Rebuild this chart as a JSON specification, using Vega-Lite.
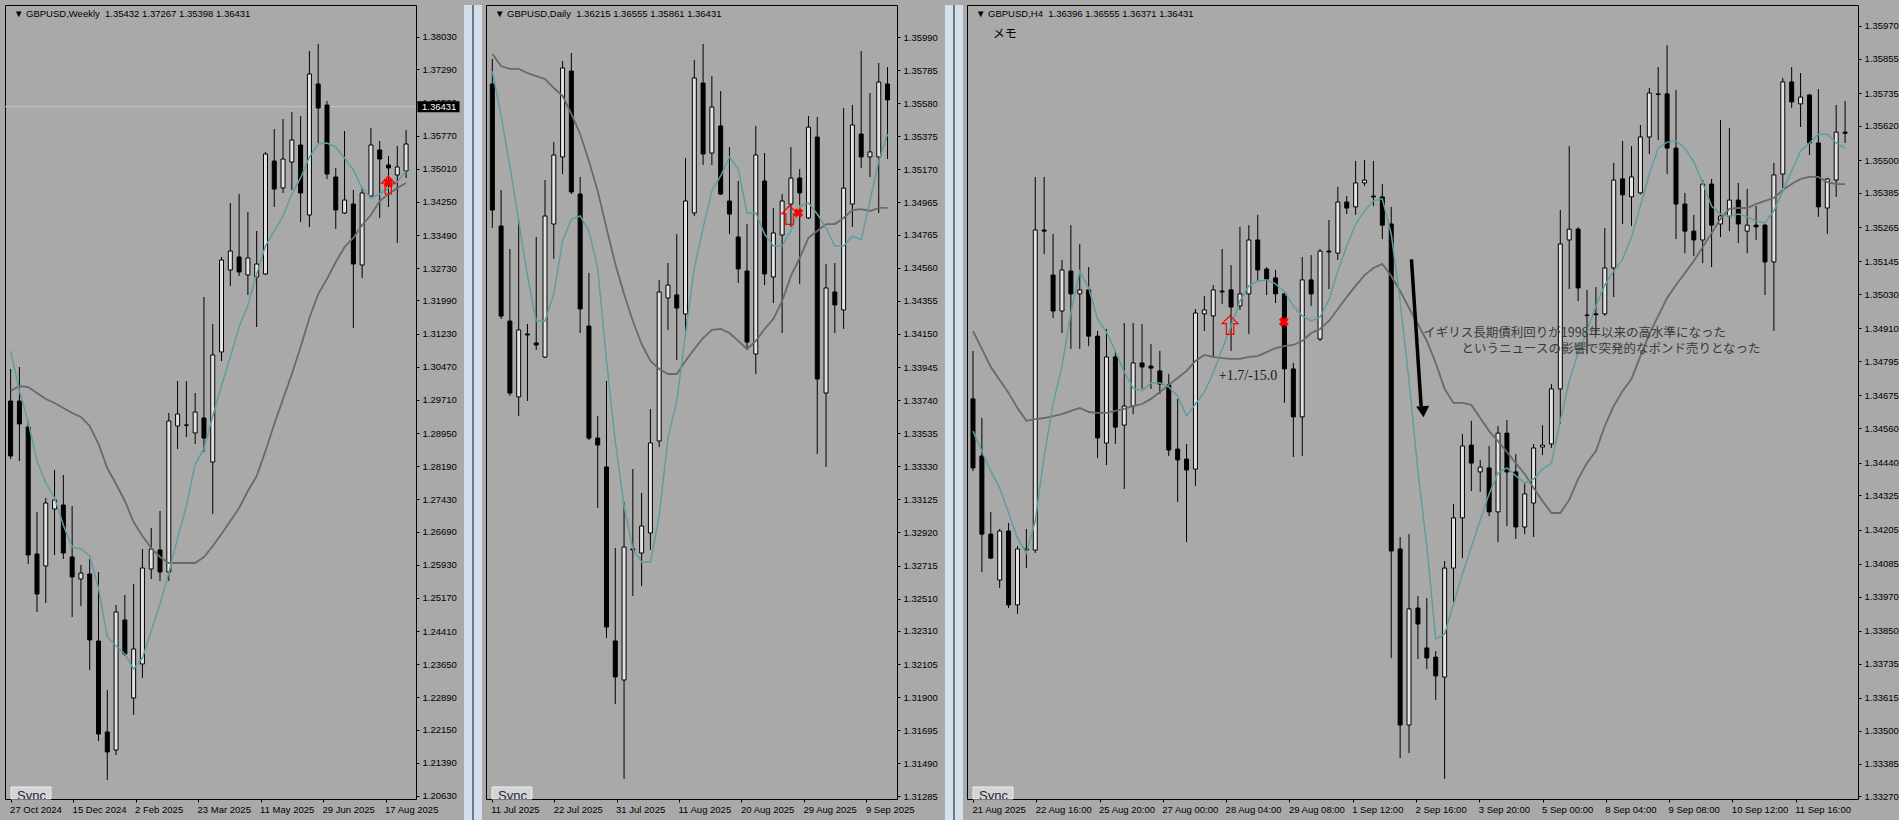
{
"$schema": "https://vega.github.io/schema/vega-lite/v6.json",
"background": "#a9a9a9",
"padding": {"left": 4, "top": 4, "right": 2, "bottom": 0},
"spacing": 3,
"config": {
  "view": {"stroke": "#000000", "strokeWidth": 1, "fill": "#a9a9a9"},
  "font": "Liberation Sans",
  "axis": {"labelFont": "Liberation Sans", "labelFontSize": 9.5, "labelColor": "#000000", "tickColor": "#000000", "tickSize": 3, "domain": false, "grid": false, "labelOverlap": false, "labelFlush": false}
},
"datasets": {
"w": [
{"i":0,"o":1.29685,"h":1.30419,"l":1.28356,"c":1.28424,"f":1.30832,"s":1.29915},
{"i":1,"o":1.29685,"h":1.30465,"l":1.2831,"c":1.29158,"f":1.29915,"s":1.30029},
{"i":2,"o":1.29089,"h":1.29227,"l":1.25948,"c":1.26155,"f":1.29204,"s":1.30006},
{"i":3,"o":1.26178,"h":1.27141,"l":1.24848,"c":1.25261,"f":1.2831,"s":1.29869},
{"i":4,"o":1.25903,"h":1.27462,"l":1.25054,"c":1.27347,"f":1.27805,"s":1.29731},
{"i":5,"o":1.27209,"h":1.28104,"l":1.26155,"c":1.27416,"f":1.27462,"s":1.29639},
{"i":6,"o":1.27301,"h":1.27989,"l":1.26063,"c":1.26201,"f":1.26843,"s":1.29525},
{"i":7,"o":1.26109,"h":1.27278,"l":1.24734,"c":1.25651,"f":1.26338,"s":1.2941},
{"i":8,"o":1.25605,"h":1.25926,"l":1.24986,"c":1.25742,"f":1.26292,"s":1.29319},
{"i":9,"o":1.25719,"h":1.26063,"l":1.23518,"c":1.24206,"f":1.26132,"s":1.29112},
{"i":10,"o":1.24183,"h":1.25765,"l":1.21891,"c":1.22051,"f":1.25398,"s":1.287},
{"i":11,"o":1.22097,"h":1.2306,"l":1.20997,"c":1.21639,"f":1.24275,"s":1.28149},
{"i":12,"o":1.21684,"h":1.25009,"l":1.2157,"c":1.24848,"f":1.24069,"s":1.27783},
{"i":13,"o":1.24665,"h":1.25238,"l":1.23839,"c":1.23885,"f":1.23885,"s":1.27393},
{"i":14,"o":1.22877,"h":1.2549,"l":1.22487,"c":1.24,"f":1.23541,"s":1.26911},
{"i":15,"o":1.23656,"h":1.26292,"l":1.23335,"c":1.25857,"f":1.23794,"s":1.2659},
{"i":16,"o":1.25834,"h":1.26774,"l":1.25605,"c":1.26292,"f":1.24413,"s":1.26315},
{"i":17,"o":1.2627,"h":1.27164,"l":1.25559,"c":1.25765,"f":1.25032,"s":1.26109},
{"i":18,"o":1.25765,"h":1.2941,"l":1.25559,"c":1.29227,"f":1.25742,"s":1.25971},
{"i":19,"o":1.29112,"h":1.30144,"l":1.28585,"c":1.29387,"f":1.26545,"s":1.25971},
{"i":20,"o":1.29135,"h":1.30144,"l":1.2886,"c":1.2913,"f":1.27278,"s":1.25971},
{"i":21,"o":1.28952,"h":1.29869,"l":1.287,"c":1.29433,"f":1.28241,"s":1.25971},
{"i":22,"o":1.29296,"h":1.3207,"l":1.28516,"c":1.28837,"f":1.28585,"s":1.26109},
{"i":23,"o":1.28287,"h":1.31451,"l":1.27095,"c":1.3074,"f":1.29341,"s":1.26361},
{"i":24,"o":1.30809,"h":1.32987,"l":1.30602,"c":1.32918,"f":1.30029,"s":1.26636},
{"i":25,"o":1.32689,"h":1.34224,"l":1.32322,"c":1.33124,"f":1.30694,"s":1.26934},
{"i":26,"o":1.32987,"h":1.34431,"l":1.32551,"c":1.32643,"f":1.31382,"s":1.27232},
{"i":27,"o":1.32574,"h":1.34018,"l":1.32115,"c":1.32964,"f":1.31886,"s":1.27622},
{"i":28,"o":1.32528,"h":1.33583,"l":1.31382,"c":1.32826,"f":1.32597,"s":1.27966},
{"i":29,"o":1.32597,"h":1.35394,"l":1.32574,"c":1.35348,"f":1.33239,"s":1.28539},
{"i":30,"o":1.35187,"h":1.35921,"l":1.34133,"c":1.34545,"f":1.33583,"s":1.29158},
{"i":31,"o":1.34568,"h":1.3615,"l":1.34454,"c":1.35233,"f":1.33926,"s":1.29731},
{"i":32,"o":1.35164,"h":1.36311,"l":1.34523,"c":1.35669,"f":1.34431,"s":1.30304},
{"i":33,"o":1.35554,"h":1.36219,"l":1.33789,"c":1.34454,"f":1.34798,"s":1.30923},
{"i":34,"o":1.33949,"h":1.37709,"l":1.33674,"c":1.37182,"f":1.35279,"s":1.31588},
{"i":35,"o":1.36953,"h":1.3787,"l":1.356,"c":1.36402,"f":1.35577,"s":1.32138},
{"i":36,"o":1.36471,"h":1.36563,"l":1.34775,"c":1.34889,"f":1.356,"s":1.32482},
{"i":37,"o":1.34821,"h":1.35027,"l":1.33628,"c":1.34064,"f":1.35508,"s":1.32872},
{"i":38,"o":1.33995,"h":1.35875,"l":1.33972,"c":1.34293,"f":1.35256,"s":1.33216},
{"i":39,"o":1.34202,"h":1.34523,"l":1.31359,"c":1.32826,"f":1.34981,"s":1.33422},
{"i":40,"o":1.32803,"h":1.34568,"l":1.32505,"c":1.34454,"f":1.34568,"s":1.3372},
{"i":41,"o":1.34385,"h":1.35944,"l":1.34339,"c":1.35554,"f":1.34339,"s":1.33949},
{"i":42,"o":1.3544,"h":1.35646,"l":1.33881,"c":1.35233,"f":1.34431,"s":1.3427},
{"i":43,"o":1.35096,"h":1.35302,"l":1.34133,"c":1.35027,"f":1.34568,"s":1.34431},
{"i":44,"o":1.34866,"h":1.35531,"l":1.33307,"c":1.3505,"f":1.34706,"s":1.34568},
{"i":45,"o":1.34958,"h":1.35898,"l":1.34798,"c":1.35577,"f":1.34958,"s":1.34683}
],
"d": [
{"i":0,"o":1.35699,"h":1.35854,"l":1.34807,"c":1.34918,"f":1.35779,"s":1.35885},
{"i":1,"o":1.34819,"h":1.35042,"l":1.34243,"c":1.34261,"f":1.35501,"s":1.3581},
{"i":2,"o":1.3423,"h":1.34677,"l":1.33766,"c":1.33784,"f":1.35191,"s":1.35792},
{"i":3,"o":1.3376,"h":1.34856,"l":1.33642,"c":1.34175,"f":1.3485,"s":1.35792},
{"i":4,"o":1.3415,"h":1.34212,"l":1.33735,"c":1.34144,"f":1.34509,"s":1.35767},
{"i":5,"o":1.34094,"h":1.34751,"l":1.34051,"c":1.34082,"f":1.3423,"s":1.35748},
{"i":6,"o":1.34007,"h":1.35104,"l":1.34001,"c":1.34881,"f":1.3423,"s":1.3573},
{"i":7,"o":1.34831,"h":1.35339,"l":1.34615,"c":1.35259,"f":1.34398,"s":1.35674},
{"i":8,"o":1.35247,"h":1.35841,"l":1.35141,"c":1.35798,"f":1.34726,"s":1.35625},
{"i":9,"o":1.35779,"h":1.35891,"l":1.35017,"c":1.3503,"f":1.34862,"s":1.35513},
{"i":10,"o":1.35017,"h":1.35123,"l":1.34156,"c":1.34305,"f":1.34881,"s":1.35389},
{"i":11,"o":1.34199,"h":1.34528,"l":1.33493,"c":1.33505,"f":1.34788,"s":1.35222},
{"i":12,"o":1.33505,"h":1.33642,"l":1.33072,"c":1.33462,"f":1.34559,"s":1.35036},
{"i":13,"o":1.33326,"h":1.33859,"l":1.32266,"c":1.32334,"f":1.33983,"s":1.34807},
{"i":14,"o":1.32248,"h":1.32824,"l":1.31857,"c":1.32025,"f":1.33487,"s":1.34584},
{"i":15,"o":1.32006,"h":1.33109,"l":1.31393,"c":1.3283,"f":1.33084,"s":1.34398},
{"i":16,"o":1.32818,"h":1.33313,"l":1.32527,"c":1.32812,"f":1.32818,"s":1.3423},
{"i":17,"o":1.32793,"h":1.33165,"l":1.32588,"c":1.3296,"f":1.32737,"s":1.34088},
{"i":18,"o":1.32917,"h":1.33685,"l":1.32812,"c":1.33475,"f":1.32737,"s":1.33983},
{"i":19,"o":1.33487,"h":1.34484,"l":1.3345,"c":1.3441,"f":1.33022,"s":1.33933},
{"i":20,"o":1.34373,"h":1.3459,"l":1.34175,"c":1.34453,"f":1.33505,"s":1.33902},
{"i":21,"o":1.34392,"h":1.34769,"l":1.33989,"c":1.34311,"f":1.33735,"s":1.33902},
{"i":22,"o":1.34274,"h":1.3524,"l":1.3415,"c":1.34974,"f":1.3415,"s":1.33983},
{"i":23,"o":1.349,"h":1.35848,"l":1.34881,"c":1.35736,"f":1.34559,"s":1.34057},
{"i":24,"o":1.35705,"h":1.35947,"l":1.35197,"c":1.35265,"f":1.34807,"s":1.34125},
{"i":25,"o":1.35271,"h":1.35748,"l":1.35197,"c":1.35556,"f":1.35036,"s":1.34175},
{"i":26,"o":1.35439,"h":1.35655,"l":1.35011,"c":1.35017,"f":1.35129,"s":1.34181},
{"i":27,"o":1.34974,"h":1.35308,"l":1.34769,"c":1.34893,"f":1.35247,"s":1.34156},
{"i":28,"o":1.34751,"h":1.35098,"l":1.34466,"c":1.34553,"f":1.35172,"s":1.34107},
{"i":29,"o":1.3454,"h":1.34831,"l":1.34051,"c":1.341,"f":1.349,"s":1.34057},
{"i":30,"o":1.34026,"h":1.35439,"l":1.33902,"c":1.35259,"f":1.349,"s":1.34107},
{"i":31,"o":1.35098,"h":1.35271,"l":1.34453,"c":1.34522,"f":1.34769,"s":1.34181},
{"i":32,"o":1.34503,"h":1.34931,"l":1.34342,"c":1.34776,"f":1.34695,"s":1.34243},
{"i":33,"o":1.34763,"h":1.35017,"l":1.34156,"c":1.34974,"f":1.34695,"s":1.34354},
{"i":34,"o":1.34955,"h":1.35308,"l":1.34813,"c":1.35116,"f":1.34788,"s":1.34509},
{"i":35,"o":1.35116,"h":1.35172,"l":1.3446,"c":1.35024,"f":1.34943,"s":1.34621},
{"i":36,"o":1.34869,"h":1.35501,"l":1.34862,"c":1.35432,"f":1.34962,"s":1.34745},
{"i":37,"o":1.3537,"h":1.35495,"l":1.33406,"c":1.33871,"f":1.34893,"s":1.34788},
{"i":38,"o":1.33784,"h":1.34584,"l":1.33326,"c":1.34435,"f":1.34807,"s":1.34831},
{"i":39,"o":1.3441,"h":1.3459,"l":1.34156,"c":1.3433,"f":1.34695,"s":1.34831},
{"i":40,"o":1.34299,"h":1.3555,"l":1.34181,"c":1.35054,"f":1.34695,"s":1.34869},
{"i":41,"o":1.34955,"h":1.35569,"l":1.34813,"c":1.35445,"f":1.34757,"s":1.34918},
{"i":42,"o":1.35389,"h":1.35903,"l":1.35178,"c":1.35247,"f":1.34732,"s":1.34924},
{"i":43,"o":1.35247,"h":1.35643,"l":1.35123,"c":1.35278,"f":1.34974,"s":1.34912},
{"i":44,"o":1.35247,"h":1.35829,"l":1.349,"c":1.35711,"f":1.35222,"s":1.34931},
{"i":45,"o":1.35699,"h":1.35804,"l":1.35234,"c":1.356,"f":1.35389,"s":1.34931}
],
"h": [
{"i":0,"o":1.34663,"h":1.34831,"l":1.3441,"c":1.34421,"f":1.3455,"s":1.34901},
{"i":1,"o":1.34463,"h":1.34596,"l":1.34056,"c":1.34189,"f":1.3448,"s":1.34838},
{"i":2,"o":1.34189,"h":1.34267,"l":1.34102,"c":1.34105,"f":1.3441,"s":1.34775},
{"i":3,"o":1.34028,"h":1.34207,"l":1.34,"c":1.342,"f":1.34351,"s":1.34729},
{"i":4,"o":1.342,"h":1.34228,"l":1.3393,"c":1.33941,"f":1.34263,"s":1.34684},
{"i":5,"o":1.33941,"h":1.34147,"l":1.33909,"c":1.34137,"f":1.34175,"s":1.34631},
{"i":6,"o":1.34137,"h":1.34207,"l":1.3407,"c":1.34133,"f":1.34123,"s":1.34586},
{"i":7,"o":1.34133,"h":1.35441,"l":1.34123,"c":1.35255,"f":1.34235,"s":1.34592},
{"i":8,"o":1.35255,"h":1.35441,"l":1.35171,"c":1.35251,"f":1.34463,"s":1.34596},
{"i":9,"o":1.35097,"h":1.35241,"l":1.34946,"c":1.34971,"f":1.34645,"s":1.34603},
{"i":10,"o":1.34971,"h":1.3515,"l":1.34894,"c":1.35115,"f":1.34778,"s":1.3461},
{"i":11,"o":1.35111,"h":1.35272,"l":1.34838,"c":1.35031,"f":1.34964,"s":1.34621},
{"i":12,"o":1.35031,"h":1.35206,"l":1.34838,"c":1.35045,"f":1.35111,"s":1.34631},
{"i":13,"o":1.35045,"h":1.35125,"l":1.34848,"c":1.34883,"f":1.35052,"s":1.34617},
{"i":14,"o":1.34883,"h":1.34901,"l":1.34456,"c":1.34526,"f":1.34943,"s":1.34614},
{"i":15,"o":1.34508,"h":1.34908,"l":1.34431,"c":1.3481,"f":1.34897,"s":1.34614},
{"i":16,"o":1.3481,"h":1.34831,"l":1.34505,"c":1.34564,"f":1.34831,"s":1.34621},
{"i":17,"o":1.34571,"h":1.34929,"l":1.34347,"c":1.34638,"f":1.34757,"s":1.34628},
{"i":18,"o":1.34638,"h":1.34929,"l":1.3461,"c":1.34789,"f":1.34701,"s":1.34638},
{"i":19,"o":1.34789,"h":1.34925,"l":1.34698,"c":1.34775,"f":1.34691,"s":1.34645},
{"i":20,"o":1.34778,"h":1.34855,"l":1.34698,"c":1.34771,"f":1.34719,"s":1.34663},
{"i":21,"o":1.34761,"h":1.34831,"l":1.3468,"c":1.34715,"f":1.34719,"s":1.34687},
{"i":22,"o":1.34712,"h":1.3475,"l":1.34463,"c":1.34484,"f":1.34705,"s":1.34712},
{"i":23,"o":1.34487,"h":1.34663,"l":1.34302,"c":1.34449,"f":1.34673,"s":1.34736},
{"i":24,"o":1.34452,"h":1.34505,"l":1.34161,"c":1.34414,"f":1.34603,"s":1.34761},
{"i":25,"o":1.34417,"h":1.34978,"l":1.34358,"c":1.34964,"f":1.34645,"s":1.34796},
{"i":26,"o":1.34961,"h":1.35024,"l":1.34901,"c":1.34975,"f":1.34687,"s":1.34817},
{"i":27,"o":1.34954,"h":1.35062,"l":1.34813,"c":1.35045,"f":1.34754,"s":1.3481},
{"i":28,"o":1.35041,"h":1.35188,"l":1.34996,"c":1.35038,"f":1.34838,"s":1.34806},
{"i":29,"o":1.35045,"h":1.35132,"l":1.34831,"c":1.34985,"f":1.34918,"s":1.34803},
{"i":30,"o":1.34989,"h":1.35266,"l":1.34975,"c":1.35031,"f":1.35006,"s":1.34803},
{"i":31,"o":1.35031,"h":1.35272,"l":1.3489,"c":1.3522,"f":1.35059,"s":1.3481},
{"i":32,"o":1.3522,"h":1.35308,"l":1.35076,"c":1.35115,"f":1.35076,"s":1.34813},
{"i":33,"o":1.35118,"h":1.35125,"l":1.35027,"c":1.35083,"f":1.3508,"s":1.34827},
{"i":34,"o":1.35087,"h":1.35115,"l":1.34999,"c":1.35031,"f":1.35066,"s":1.34841},
{"i":35,"o":1.35031,"h":1.35041,"l":1.34649,"c":1.34768,"f":1.35038,"s":1.34848},
{"i":36,"o":1.34768,"h":1.34789,"l":1.34459,"c":1.346,"f":1.34989,"s":1.34852},
{"i":37,"o":1.346,"h":1.3516,"l":1.34463,"c":1.3508,"f":1.34954,"s":1.34866},
{"i":38,"o":1.3508,"h":1.35167,"l":1.34989,"c":1.35031,"f":1.34936,"s":1.34894},
{"i":39,"o":1.34873,"h":1.35188,"l":1.34866,"c":1.35181,"f":1.3495,"s":1.34908},
{"i":40,"o":1.35181,"h":1.3529,"l":1.35048,"c":1.35178,"f":1.3501,"s":1.34936},
{"i":41,"o":1.35174,"h":1.35406,"l":1.3515,"c":1.35353,"f":1.35111,"s":1.34978},
{"i":42,"o":1.35353,"h":1.35374,"l":1.35311,"c":1.35332,"f":1.35199,"s":1.3502},
{"i":43,"o":1.35336,"h":1.35497,"l":1.35308,"c":1.3542,"f":1.35276,"s":1.35059},
{"i":44,"o":1.3542,"h":1.355,"l":1.35409,"c":1.3543,"f":1.35322,"s":1.35097},
{"i":45,"o":1.35374,"h":1.35497,"l":1.35339,"c":1.35371,"f":1.35357,"s":1.35122},
{"i":46,"o":1.35371,"h":1.35416,"l":1.35223,"c":1.35272,"f":1.35364,"s":1.35136},
{"i":47,"o":1.35276,"h":1.35336,"l":1.33755,"c":1.3413,"f":1.35241,"s":1.35094},
{"i":48,"o":1.34137,"h":1.34179,"l":1.33404,"c":1.3352,"f":1.35006,"s":1.35041},
{"i":49,"o":1.3352,"h":1.34189,"l":1.33422,"c":1.33927,"f":1.34726,"s":1.34982},
{"i":50,"o":1.3393,"h":1.33972,"l":1.33751,"c":1.33874,"f":1.3441,"s":1.34925},
{"i":51,"o":1.3379,"h":1.33965,"l":1.33716,"c":1.33755,"f":1.34147,"s":1.34866},
{"i":52,"o":1.33758,"h":1.33779,"l":1.33608,"c":1.33692,"f":1.33821,"s":1.34789},
{"i":53,"o":1.33688,"h":1.34095,"l":1.33331,"c":1.3407,"f":1.33839,"s":1.34698},
{"i":54,"o":1.3407,"h":1.34295,"l":1.33948,"c":1.34246,"f":1.33944,"s":1.34649},
{"i":55,"o":1.34246,"h":1.3454,"l":1.34105,"c":1.34498,"f":1.34049,"s":1.34649},
{"i":56,"o":1.34501,"h":1.34586,"l":1.3434,"c":1.34438,"f":1.34144,"s":1.34642},
{"i":57,"o":1.34407,"h":1.34449,"l":1.34337,"c":1.34424,"f":1.34238,"s":1.34596},
{"i":58,"o":1.34421,"h":1.34498,"l":1.34252,"c":1.34267,"f":1.3433,"s":1.3455},
{"i":59,"o":1.34267,"h":1.34568,"l":1.34161,"c":1.34543,"f":1.34403,"s":1.34515},
{"i":60,"o":1.34543,"h":1.34589,"l":1.34217,"c":1.34407,"f":1.34421,"s":1.34477},
{"i":61,"o":1.34407,"h":1.3447,"l":1.34172,"c":1.34214,"f":1.34393,"s":1.34438},
{"i":62,"o":1.34214,"h":1.34368,"l":1.34189,"c":1.3433,"f":1.34368,"s":1.344},
{"i":63,"o":1.34298,"h":1.34505,"l":1.34179,"c":1.34491,"f":1.34382,"s":1.34351},
{"i":64,"o":1.34494,"h":1.34571,"l":1.34466,"c":1.34501,"f":1.34417,"s":1.34305},
{"i":65,"o":1.34505,"h":1.34715,"l":1.34491,"c":1.34698,"f":1.34438,"s":1.34263},
{"i":66,"o":1.34698,"h":1.35325,"l":1.34575,"c":1.35206,"f":1.34586,"s":1.34263},
{"i":67,"o":1.3522,"h":1.35549,"l":1.35048,"c":1.35258,"f":1.34726,"s":1.34309},
{"i":68,"o":1.35258,"h":1.35265,"l":1.35006,"c":1.35052,"f":1.34824,"s":1.34382},
{"i":69,"o":1.34957,"h":1.35045,"l":1.3482,"c":1.34955,"f":1.34901,"s":1.34438},
{"i":70,"o":1.34961,"h":1.35055,"l":1.3489,"c":1.34958,"f":1.34989,"s":1.3448},
{"i":71,"o":1.34961,"h":1.35262,"l":1.34954,"c":1.35122,"f":1.35062,"s":1.34568},
{"i":72,"o":1.35122,"h":1.3549,"l":1.3502,"c":1.3543,"f":1.35111,"s":1.34638},
{"i":73,"o":1.35434,"h":1.35567,"l":1.35276,"c":1.35378,"f":1.35153,"s":1.34691},
{"i":74,"o":1.35371,"h":1.35549,"l":1.35269,"c":1.35441,"f":1.3523,"s":1.34733},
{"i":75,"o":1.35385,"h":1.35623,"l":1.3538,"c":1.35581,"f":1.35339,"s":1.34813},
{"i":76,"o":1.35581,"h":1.35753,"l":1.35521,"c":1.35735,"f":1.35451,"s":1.3489},
{"i":77,"o":1.35732,"h":1.35826,"l":1.3557,"c":1.3573,"f":1.35542,"s":1.34954},
{"i":78,"o":1.35732,"h":1.35903,"l":1.35451,"c":1.35542,"f":1.35563,"s":1.35017},
{"i":79,"o":1.35542,"h":1.35746,"l":1.35223,"c":1.35346,"f":1.35567,"s":1.35062},
{"i":80,"o":1.35346,"h":1.35385,"l":1.35174,"c":1.35251,"f":1.35542,"s":1.35104},
{"i":81,"o":1.35251,"h":1.35308,"l":1.35164,"c":1.3522,"f":1.35493,"s":1.35146},
{"i":82,"o":1.3522,"h":1.3543,"l":1.35139,"c":1.35416,"f":1.3542,"s":1.35195},
{"i":83,"o":1.35416,"h":1.35434,"l":1.35125,"c":1.35272,"f":1.35339,"s":1.35244},
{"i":84,"o":1.35276,"h":1.3564,"l":1.3523,"c":1.35304,"f":1.35311,"s":1.35294},
{"i":85,"o":1.35304,"h":1.35612,"l":1.35251,"c":1.3536,"f":1.35304,"s":1.35329},
{"i":86,"o":1.3536,"h":1.3542,"l":1.35209,"c":1.35276,"f":1.35311,"s":1.35332},
{"i":87,"o":1.35251,"h":1.35399,"l":1.35174,"c":1.35272,"f":1.35301,"s":1.35332},
{"i":88,"o":1.35272,"h":1.35339,"l":1.3522,"c":1.35266,"f":1.35287,"s":1.35346},
{"i":89,"o":1.35272,"h":1.35276,"l":1.35027,"c":1.35143,"f":1.3528,"s":1.35357},
{"i":90,"o":1.35143,"h":1.3549,"l":1.34901,"c":1.35448,"f":1.35322,"s":1.35367},
{"i":91,"o":1.35451,"h":1.35788,"l":1.35402,"c":1.35774,"f":1.35392,"s":1.35395},
{"i":92,"o":1.35774,"h":1.35826,"l":1.35683,"c":1.35704,"f":1.35462,"s":1.35416},
{"i":93,"o":1.35697,"h":1.35805,"l":1.35616,"c":1.35721,"f":1.35532,"s":1.35434},
{"i":94,"o":1.35728,"h":1.35732,"l":1.35518,"c":1.3556,"f":1.3556,"s":1.35441},
{"i":95,"o":1.3556,"h":1.35749,"l":1.35301,"c":1.35336,"f":1.35591,"s":1.35441},
{"i":96,"o":1.35332,"h":1.35437,"l":1.35241,"c":1.35434,"f":1.35591,"s":1.35423},
{"i":97,"o":1.3543,"h":1.35693,"l":1.35371,"c":1.35598,"f":1.3556,"s":1.35416},
{"i":98,"o":1.35598,"h":1.35707,"l":1.3556,"c":1.35594,"f":1.35542,"s":1.35416}
]
},
"hconcat": [
{
  "width": 411, "height": 794,
  "data": {"name": "w"},
  "resolve": {"scale": {"y": "independent"}},
  "encoding": {"x": {"field": "i", "type": "quantitative", "title": null, "scale": {"domain": [-0.07, 45.56], "nice": false, "zero": false},
     "axis": {"values": [0, 7.111, 14.222, 21.333, 28.444, 35.556, 42.667], "labelExpr": "['27 Oct 2024','15 Dec 2024','2 Feb 2025','23 Mar 2025','11 May 2025','29 Jun 2025','17 Aug 2025'][round(datum.value/7.111)]", "labelAlign": "left", "labelOffset": -1, "labelPadding": 2, "labelBaseline": "top", "labelOverlap": false}}},
  "layer": [
    {"data": {"values": [{"p": 1.36431}]}, "mark": {"type": "rule", "color": "#c4c4c4", "strokeWidth": 1},
     "encoding": {"x": null, "y": {"field": "p", "type": "quantitative", "title": null, "scale": {"domain": [1.205611, 1.387636], "nice": false, "zero": false},
       "axis": {"orient": "right", "values": [1.3803, 1.3729, 1.3653, 1.3577, 1.3501, 1.3425, 1.3349, 1.3273, 1.3199, 1.3123, 1.3047, 1.2971, 1.2895, 1.2819, 1.2743, 1.2669, 1.2593, 1.2517, 1.2441, 1.2365, 1.2289, 1.2215, 1.2139, 1.2063], "format": ".5f", "minExtent": 44, "maxExtent": 44, "labelPadding": 3, "labelOverlap": false, "labelBound": false}}}},
    {"mark": {"type": "rule", "color": "#000000", "strokeWidth": 1, "clip": true},
     "encoding": {"y": {"field": "l", "type": "quantitative", "axis": null, "scale": {"domain": [1.205611, 1.387636], "nice": false, "zero": false}}, "y2": {"field": "h"}}},
    {"mark": {"type": "bar", "size": 4, "stroke": "#000000", "strokeWidth": 1, "clip": true},
     "encoding": {"y": {"field": "o", "type": "quantitative", "axis": null, "scale": {"domain": [1.205611, 1.387636], "nice": false, "zero": false}}, "y2": {"field": "c"},
       "fill": {"condition": {"test": "datum.c > datum.o", "value": "#e2e2e2"}, "value": "#000000"}}},
    {"mark": {"type": "line", "color": "#696969", "strokeWidth": 1.8, "clip": true},
     "encoding": {"y": {"field": "s", "type": "quantitative", "axis": null, "scale": {"domain": [1.205611, 1.387636], "nice": false, "zero": false}}}},
    {"mark": {"type": "line", "color": "#5f9ea0", "strokeWidth": 1.5, "clip": true},
     "encoding": {"y": {"field": "f", "type": "quantitative", "axis": null, "scale": {"domain": [1.205611, 1.387636], "nice": false, "zero": false}}}},
    {"data": {"values": [{"i": 42.97, "p": 1.34637}]},
     "mark": {"type": "point", "shape": "M0,-1L0.75,-0.2L0.35,-0.2L0.35,1L-0.35,1L-0.35,-0.2L-0.75,-0.2Z", "size": 324, "filled": false, "stroke": "#ff0000", "strokeWidth": 1.2, "opacity": 1},
     "encoding": {"y": {"field": "p", "type": "quantitative", "axis": null, "scale": {"domain": [1.205611, 1.387636], "nice": false, "zero": false}}}},
    {"data": {"values": [{"i": 42.97, "p": 1.3469}]},
     "mark": {"type": "point", "shape": "cross", "angle": 45, "size": 90, "filled": true, "color": "#ff0000", "opacity": 1},
     "encoding": {"y": {"field": "p", "type": "quantitative", "axis": null, "scale": {"domain": [1.205611, 1.387636], "nice": false, "zero": false}}}},
    {"data": {"values": [{"p": 1.36431, "t": "1.36431"}]},
     "mark": {"type": "point", "shape": "M-1,-0.262L1,-0.262L1,0.262L-1,0.262Z", "size": 1764, "filled": true, "color": "#000000", "opacity": 1, "xOffset": 22.5},
     "encoding": {"x": {"value": "width"}, "y": {"field": "p", "type": "quantitative", "axis": null, "scale": {"domain": [1.205611, 1.387636], "nice": false, "zero": false}}}},
    {"data": {"values": [{"p": 1.36431, "t": "1.36431"}]},
     "mark": {"type": "text", "color": "#ffffff", "align": "left", "baseline": "middle", "dx": 6, "fontSize": 9.5, "font": "Liberation Sans"},
     "encoding": {"x": {"value": "width"}, "y": {"field": "p", "type": "quantitative", "axis": null, "scale": {"domain": [1.205611, 1.387636], "nice": false, "zero": false}}, "text": {"field": "t"}}},
    {"data": {"values": [{"i": -0.07, "p": 1.387636, "t": "\u25bc GBPUSD,Weekly\u00a0\u00a01.35432 1.37267 1.35398 1.36431"}]},
     "mark": {"type": "text", "align": "left", "baseline": "middle", "dx": 4, "dy": 8.5, "fontSize": 9.5, "font": "Liberation Sans", "color": "#000000"},
     "encoding": {"y": {"field": "p", "type": "quantitative", "axis": null, "scale": {"domain": [1.205611, 1.387636], "nice": false, "zero": false}}, "text": {"field": "t"}}},
    {"data": {"values": [{"i": -0.07, "p": 1.205611}]},
     "mark": {"type": "point", "shape": "M-1,-0.3L1,-0.3L1,0.3L-1,0.3Z", "size": 1600, "filled": true, "fill": "#d4d4d4", "stroke": "#eeeeee", "strokeWidth": 1, "opacity": 1, "xOffset": 21, "yOffset": -6},
     "encoding": {"y": {"field": "p", "type": "quantitative", "axis": null, "scale": {"domain": [1.205611, 1.387636], "nice": false, "zero": false}}}},
    {"data": {"values": [{"i": -0.07, "p": 1.205611, "t": "Sync"}]},
     "mark": {"type": "text", "align": "left", "baseline": "alphabetic", "dx": 7, "dy": 1, "fontSize": 13, "font": "Liberation Sans", "color": "#1a2a40", "clip": true},
     "encoding": {"y": {"field": "p", "type": "quantitative", "axis": null, "scale": {"domain": [1.205611, 1.387636], "nice": false, "zero": false}}, "text": {"field": "t"}}}
  ]
},
{"width": 18, "height": 816, "view": {"fill": "#d3dfeb", "stroke": null}, "data": {"values": [{"v": 0.5}]},
 "mark": {"type": "rule", "color": "#6b7a8a", "strokeWidth": 2},
 "encoding": {"x": {"field": "v", "type": "quantitative", "scale": {"domain": [0, 1]}, "axis": null}}},
{
  "width": 411, "height": 794,
  "data": {"name": "d"},
  "resolve": {"scale": {"y": "independent"}},
  "encoding": {"x": {"field": "i", "type": "quantitative", "title": null, "scale": {"domain": [-0.15, 45.51], "nice": false, "zero": false},
     "axis": {"values": [-0.07, 7.04, 14.15, 21.26, 28.37, 35.49, 42.6], "labelExpr": "['11 Jul 2025','22 Jul 2025','31 Jul 2025','11 Aug 2025','20 Aug 2025','29 Aug 2025','9 Sep 2025'][round((datum.value+0.07)/7.111)]", "labelAlign": "left", "labelOffset": -1, "labelPadding": 2, "labelBaseline": "top", "labelOverlap": false}}},
  "layer": [
    {"mark": {"type": "rule", "color": "#000000", "strokeWidth": 1, "clip": true},
     "encoding": {"y": {"field": "l", "type": "quantitative", "title": null, "scale": {"domain": [1.312687, 1.361883], "nice": false, "zero": false},
       "axis": {"orient": "right", "values": [1.3599, 1.35785, 1.3558, 1.35375, 1.3517, 1.34965, 1.34765, 1.3456, 1.34355, 1.3415, 1.33945, 1.3374, 1.33535, 1.3333, 1.33125, 1.3292, 1.32715, 1.3251, 1.3231, 1.32105, 1.319, 1.31695, 1.3149, 1.31285], "format": ".5f", "minExtent": 44, "maxExtent": 44, "labelPadding": 3, "labelOverlap": false, "labelBound": false}}, "y2": {"field": "h"}}},
    {"mark": {"type": "bar", "size": 4, "stroke": "#000000", "strokeWidth": 1, "clip": true},
     "encoding": {"y": {"field": "o", "type": "quantitative", "axis": null, "scale": {"domain": [1.312687, 1.361883], "nice": false, "zero": false}}, "y2": {"field": "c"},
       "fill": {"condition": {"test": "datum.c > datum.o", "value": "#e2e2e2"}, "value": "#000000"}}},
    {"mark": {"type": "line", "color": "#696969", "strokeWidth": 1.8, "clip": true},
     "encoding": {"y": {"field": "s", "type": "quantitative", "axis": null, "scale": {"domain": [1.312687, 1.361883], "nice": false, "zero": false}}}},
    {"mark": {"type": "line", "color": "#5f9ea0", "strokeWidth": 1.5, "clip": true},
     "encoding": {"y": {"field": "f", "type": "quantitative", "axis": null, "scale": {"domain": [1.312687, 1.361883], "nice": false, "zero": false}}}},
    {"data": {"values": [{"i": 33.85, "p": 1.34887}]},
     "mark": {"type": "point", "shape": "M0,-1L0.85,-0.15L0.4,-0.15L0.4,1L-0.4,1L-0.4,-0.15L-0.85,-0.15Z", "size": 346, "filled": false, "stroke": "#ff0000", "strokeWidth": 1.2, "opacity": 1},
     "encoding": {"y": {"field": "p", "type": "quantitative", "axis": null, "scale": {"domain": [1.312687, 1.361883], "nice": false, "zero": false}}}},
    {"data": {"values": [{"i": 34.85, "p": 1.349}]},
     "mark": {"type": "point", "shape": "cross", "angle": 45, "size": 90, "filled": true, "color": "#ff0000", "opacity": 1},
     "encoding": {"y": {"field": "p", "type": "quantitative", "axis": null, "scale": {"domain": [1.312687, 1.361883], "nice": false, "zero": false}}}},
    {"data": {"values": [{"i": -0.15, "p": 1.361883, "t": "\u25bc GBPUSD,Daily\u00a0\u00a01.36215 1.36555 1.35861 1.36431"}]},
     "mark": {"type": "text", "align": "left", "baseline": "middle", "dx": 4, "dy": 8.5, "fontSize": 9.5, "font": "Liberation Sans", "color": "#000000"},
     "encoding": {"y": {"field": "p", "type": "quantitative", "axis": null, "scale": {"domain": [1.312687, 1.361883], "nice": false, "zero": false}}, "text": {"field": "t"}}},
    {"data": {"values": [{"i": -0.15, "p": 1.312687}]},
     "mark": {"type": "point", "shape": "M-1,-0.3L1,-0.3L1,0.3L-1,0.3Z", "size": 1600, "filled": true, "fill": "#d4d4d4", "stroke": "#eeeeee", "strokeWidth": 1, "opacity": 1, "xOffset": 21, "yOffset": -6},
     "encoding": {"y": {"field": "p", "type": "quantitative", "axis": null, "scale": {"domain": [1.312687, 1.361883], "nice": false, "zero": false}}}},
    {"data": {"values": [{"i": -0.15, "p": 1.312687, "t": "Sync"}]},
     "mark": {"type": "text", "align": "left", "baseline": "alphabetic", "dx": 7, "dy": 1, "fontSize": 13, "font": "Liberation Sans", "color": "#1a2a40", "clip": true},
     "encoding": {"y": {"field": "p", "type": "quantitative", "axis": null, "scale": {"domain": [1.312687, 1.361883], "nice": false, "zero": false}}, "text": {"field": "t"}}}
  ]
},
{"width": 18, "height": 816, "view": {"fill": "#d3dfeb", "stroke": null}, "data": {"values": [{"v": 0.5}]},
 "mark": {"type": "rule", "color": "#6b7a8a", "strokeWidth": 2},
 "encoding": {"x": {"field": "v", "type": "quantitative", "scale": {"domain": [0, 1]}, "axis": null}}},
{
  "width": 891, "height": 794,
  "data": {"name": "h"},
  "resolve": {"scale": {"y": "independent"}},
  "encoding": {"x": {"field": "i", "type": "quantitative", "title": null, "scale": {"domain": [-0.11, 98.89], "nice": false, "zero": false},
     "axis": {"values": [0, 7.111, 14.222, 21.333, 28.444, 35.556, 42.667, 49.778, 56.889, 64, 71.111, 78.222, 85.333, 92.444], "labelExpr": "['21 Aug 2025','22 Aug 16:00','25 Aug 20:00','27 Aug 00:00','28 Aug 04:00','29 Aug 08:00','1 Sep 12:00','2 Sep 16:00','3 Sep 20:00','5 Sep 00:00','8 Sep 04:00','9 Sep 08:00','10 Sep 12:00','11 Sep 16:00'][round(datum.value/7.111)]", "labelAlign": "left", "labelOffset": -1, "labelPadding": 2, "labelBaseline": "top", "labelOverlap": false}}},
  "layer": [
    {"mark": {"type": "rule", "color": "#000000", "strokeWidth": 1, "clip": true},
     "encoding": {"y": {"field": "l", "type": "quantitative", "title": null, "scale": {"domain": [1.332606, 1.360436], "nice": false, "zero": false},
       "axis": {"orient": "right", "values": [1.3597, 1.35855, 1.35735, 1.3562, 1.355, 1.35385, 1.35265, 1.35145, 1.3503, 1.3491, 1.34795, 1.34675, 1.3456, 1.3444, 1.34325, 1.34205, 1.34085, 1.3397, 1.3385, 1.33735, 1.33615, 1.335, 1.33385, 1.3327], "format": ".5f", "minExtent": 44, "maxExtent": 44, "labelPadding": 3, "labelOverlap": false, "labelBound": false}}, "y2": {"field": "h"}}},
    {"mark": {"type": "bar", "size": 4, "stroke": "#000000", "strokeWidth": 1, "clip": true},
     "encoding": {"y": {"field": "o", "type": "quantitative", "axis": null, "scale": {"domain": [1.332606, 1.360436], "nice": false, "zero": false}}, "y2": {"field": "c"},
       "fill": {"condition": {"test": "datum.c > datum.o", "value": "#e2e2e2"}, "value": "#000000"}}},
    {"mark": {"type": "line", "color": "#696969", "strokeWidth": 1.8, "clip": true},
     "encoding": {"y": {"field": "s", "type": "quantitative", "axis": null, "scale": {"domain": [1.332606, 1.360436], "nice": false, "zero": false}}}},
    {"mark": {"type": "line", "color": "#5f9ea0", "strokeWidth": 1.5, "clip": true},
     "encoding": {"y": {"field": "f", "type": "quantitative", "axis": null, "scale": {"domain": [1.332606, 1.360436], "nice": false, "zero": false}}}},
    {"data": {"values": [{"i": 28.89, "p": 1.34922}]},
     "mark": {"type": "point", "shape": "M0,-1L0.85,-0.15L0.4,-0.15L0.4,1L-0.4,1L-0.4,-0.15L-0.85,-0.15Z", "size": 346, "filled": false, "stroke": "#ff0000", "strokeWidth": 1.2, "opacity": 1},
     "encoding": {"y": {"field": "p", "type": "quantitative", "axis": null, "scale": {"domain": [1.332606, 1.360436], "nice": false, "zero": false}}}},
    {"data": {"values": [{"i": 34.93, "p": 1.34933}]},
     "mark": {"type": "point", "shape": "cross", "angle": 45, "size": 100, "filled": true, "color": "#ff0000", "opacity": 1},
     "encoding": {"y": {"field": "p", "type": "quantitative", "axis": null, "scale": {"domain": [1.332606, 1.360436], "nice": false, "zero": false}}}},
    {"data": {"values": [{"i": 49.27, "p": 1.35152, "i2": 50.36, "p2": 1.34638}]},
     "mark": {"type": "rule", "color": "#000000", "strokeWidth": 3.5},
     "encoding": {"y": {"field": "p", "type": "quantitative", "axis": null, "scale": {"domain": [1.332606, 1.360436], "nice": false, "zero": false}}, "x2": {"field": "i2"}, "y2": {"field": "p2"}}},
    {"data": {"values": [{"i": 50.58, "p": 1.34618}]},
     "mark": {"type": "point", "shape": "triangle-down", "size": 170, "filled": true, "color": "#000000", "opacity": 1, "angle": 356},
     "encoding": {"y": {"field": "p", "type": "quantitative", "axis": null, "scale": {"domain": [1.332606, 1.360436], "nice": false, "zero": false}}}},
    {"data": {"values": [{"i": 27.63, "p": 1.34743, "t": "+1.7/-15.0"}]},
     "mark": {"type": "text", "align": "left", "baseline": "middle", "font": "Liberation Serif", "fontSize": 14, "color": "#1a1a1a"},
     "encoding": {"y": {"field": "p", "type": "quantitative", "axis": null, "scale": {"domain": [1.332606, 1.360436], "nice": false, "zero": false}}, "text": {"field": "t"}}},
    {"data": {"values": [{"i": 50.6, "p": 1.34894, "t": "イギリス長期債利回りが1998年以来の高水準になった"}, {"i": 54.9, "p": 1.34838, "t": "というニュースの影響で突発的なポンド売りとなった"}]},
     "mark": {"type": "text", "align": "left", "baseline": "middle", "font": "Noto Sans CJK JP", "fontSize": 12.5, "color": "#3a3a3a"},
     "encoding": {"y": {"field": "p", "type": "quantitative", "axis": null, "scale": {"domain": [1.332606, 1.360436], "nice": false, "zero": false}}, "text": {"field": "t"}}},
    {"data": {"values": [{"i": 2.22, "p": 1.35942, "t": "メモ"}]},
     "mark": {"type": "text", "align": "left", "baseline": "middle", "font": "Noto Sans CJK JP", "fontSize": 12, "color": "#000000"},
     "encoding": {"y": {"field": "p", "type": "quantitative", "axis": null, "scale": {"domain": [1.332606, 1.360436], "nice": false, "zero": false}}, "text": {"field": "t"}}},
    {"data": {"values": [{"i": -0.11, "p": 1.360436, "t": "\u25bc GBPUSD,H4\u00a0\u00a01.36396 1.36555 1.36371 1.36431"}]},
     "mark": {"type": "text", "align": "left", "baseline": "middle", "dx": 4, "dy": 8.5, "fontSize": 9.5, "font": "Liberation Sans", "color": "#000000"},
     "encoding": {"y": {"field": "p", "type": "quantitative", "axis": null, "scale": {"domain": [1.332606, 1.360436], "nice": false, "zero": false}}, "text": {"field": "t"}}},
    {"data": {"values": [{"i": -0.11, "p": 1.332606}]},
     "mark": {"type": "point", "shape": "M-1,-0.3L1,-0.3L1,0.3L-1,0.3Z", "size": 1600, "filled": true, "fill": "#d4d4d4", "stroke": "#eeeeee", "strokeWidth": 1, "opacity": 1, "xOffset": 21, "yOffset": -6},
     "encoding": {"y": {"field": "p", "type": "quantitative", "axis": null, "scale": {"domain": [1.332606, 1.360436], "nice": false, "zero": false}}}},
    {"data": {"values": [{"i": -0.11, "p": 1.332606, "t": "Sync"}]},
     "mark": {"type": "text", "align": "left", "baseline": "alphabetic", "dx": 7, "dy": 1, "fontSize": 13, "font": "Liberation Sans", "color": "#1a2a40", "clip": true},
     "encoding": {"y": {"field": "p", "type": "quantitative", "axis": null, "scale": {"domain": [1.332606, 1.360436], "nice": false, "zero": false}}, "text": {"field": "t"}}}
  ]
}
],
"resolve": {"scale": {"x": "independent", "y": "independent"}}
}
